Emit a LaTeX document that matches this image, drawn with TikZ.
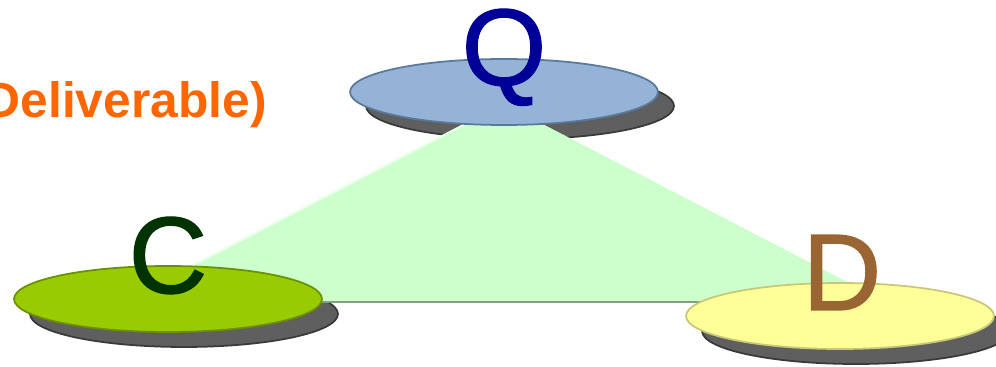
\documentclass[tikz,border=0pt]{standalone}
\usepackage{fontspec}
\setmainfont{Liberation Sans}
\newfontfamily\letterfont[FakeBold=1.2]{Liberation Sans}
\usetikzlibrary{shapes.geometric}
\definecolor{qfill}{HTML}{95B3D7}
\definecolor{qedge}{HTML}{5A7A9C}
\definecolor{qtext}{HTML}{000099}
\definecolor{cfill}{HTML}{99CC00}
\definecolor{cedge}{HTML}{6B9100}
\definecolor{ctext}{HTML}{003300}
\definecolor{dfill}{HTML}{FFFF99}
\definecolor{dedge}{HTML}{C8C878}
\definecolor{dtext}{HTML}{996633}
\definecolor{trifill}{HTML}{CCFFCC}
\definecolor{triedge}{HTML}{80A080}
\definecolor{shadowgray}{HTML}{5F5F5F}
\definecolor{shadowedge}{HTML}{3A3A3A}
\definecolor{delivorange}{HTML}{FF6600}
\begin{document}
\begin{tikzpicture}[x=0.02cm, y=-0.02cm,
    disc/.style={draw, ellipse, minimum width=6.16cm, minimum height=1.32cm, inner sep=0pt, line width=1pt},
    shadowdisc/.style={disc, fill=shadowgray, draw=shadowedge},
    letter/.style={anchor=base, inner sep=0pt, font=\letterfont\fontsize{62}{62}\selectfont}]
    \clip (0,0) rectangle (996,367);
    % Heading (cut off at the left)
    \node[anchor=base east, inner sep=0pt, text=delivorange, font=\fontsize{28.3}{30}\selectfont\bfseries] (deliv) at (267,118) {Deliverable)};
    % Shadows
    \node[shadowdisc] (qshadow) at (520,106) {};
    \node[shadowdisc] (cshadow) at (184,314) {};
    \node[shadowdisc] (dshadow) at (856,331) {};
    % Triangle
    \coordinate (top) at (504,104);
    \coordinate (left) at (122,302);
    \coordinate (right) at (886,302);
    \fill[trifill] (top) -- (right) -- (left) -- cycle;
    \draw[white!60!trifill, line width=1.2pt] (left) -- (top);
    \draw[triedge, line width=1.5pt] (left) -- (right);
    % Discs
    \node[disc, fill=qfill, draw=qedge] (qdisc) at (504,92) {};
    \node[disc, fill=cfill, draw=cedge] (cdisc) at (168,299) {};
    \node[disc, fill=dfill, draw=dedge] (ddisc) at (840,316) {};
    % Letters
    \node[letter, text=qtext] (qlabel) at (504,85) {Q};
    \node[letter, text=ctext] (clabel) at (168,293) {C};
    \node[letter, text=dtext] (dlabel) at (842,310) {D};
\end{tikzpicture}
\end{document}
